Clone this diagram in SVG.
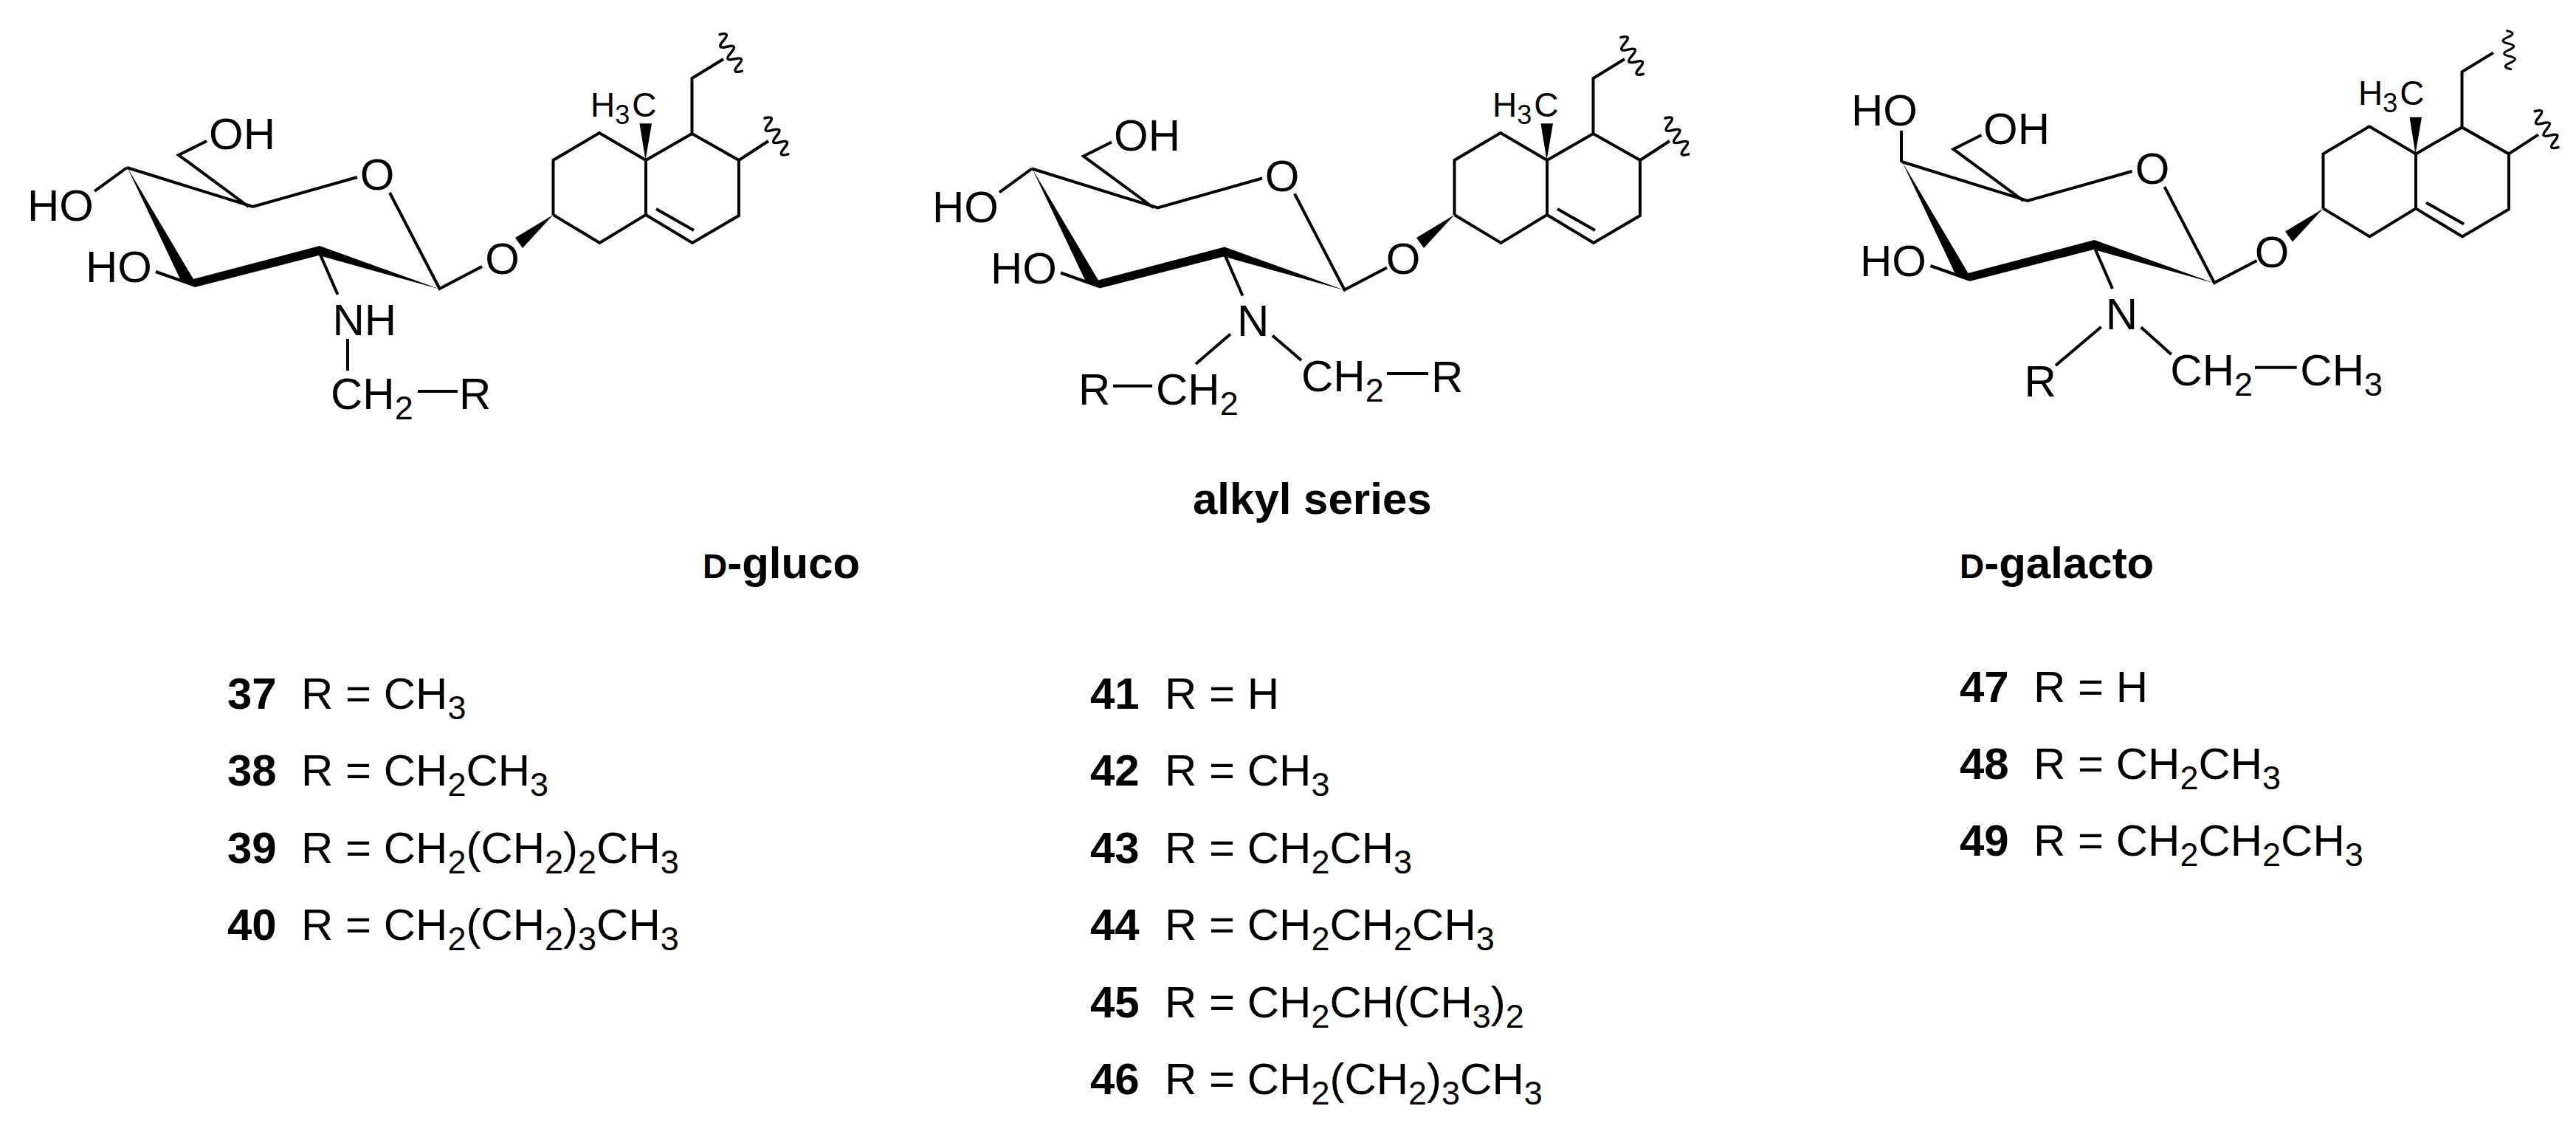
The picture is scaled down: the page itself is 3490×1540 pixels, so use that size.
<svg xmlns="http://www.w3.org/2000/svg" width="3490" height="1540" viewBox="0 0 3490 1540">
<style>
text{font-family:"Liberation Sans",Arial,sans-serif;font-size:60px;fill:#000}
.s{font-size:45px}
.h{font-size:46px}
.hs{font-size:36px}
.bd{font-weight:bold}
.sc{font-weight:bold;font-size:46px}
.m{text-anchor:middle}
.b{fill:none;stroke:#000;stroke-width:4;stroke-linejoin:miter}
.w{fill:none;stroke:#000;stroke-width:3.6;stroke-linecap:round}
.f{fill:#000;stroke:none}
</style>
<defs>
<path id="wig" class="w" d="M0 0q5 -16 10 0t10 0t10 0t10 0t10 0t10 0"/>
<g id="ring">
<path class="b" d="M172 227L342.5 280L484 240M280 191L242 210L337 280M528 261L595.5 391L653 361M211 368L262 386M433.5 344L457.5 399"/>
<polygon class="f" points="172.5,227 245,380 264,389 432,346 595.5,391.5 433,333 262,378"/>
</g>
<g id="agly">
<path class="b" d="M749.5 291V217L812 180L875 217V291L812.5 329L749.5 291M875 217L937.5 181L1001 217V292L938 329L875 291M889 283L940 312M937.5 181V106L980 80M1001 217L1041 191"/>
<polygon class="f" points="749.5,291 698,322 708,336"/>
<polygon class="f" points="874.5,217 866.5,167.3 883,167.3"/>
</g>
</defs>

<g id="connectors">
<path class="b" d="M172 227L128 259M471 459V502M566 530H620"/>
<path class="b" d="M1667 452.6L1620 493M1724 454.5L1763 488M1879 506H1935M1508 522.7H1561"/>
<path class="b" d="M2576 177V219.5M2846.7 442.7L2785 495M2900.7 443.3L2941.7 480M3055 497.7H3111.7"/>
</g>

<g id="d-gluco-structure">
<use href="#ring"/><use href="#agly"/>
<use href="#wig" transform="translate(975 46.7) rotate(58.6) scale(.97)"/>
<use href="#wig" transform="translate(1036 160) rotate(57) scale(.97)"/>
<text x="283" y="202">OH</text>
<text x="37" y="299">HO</text>
<text x="116" y="382">HO</text>
<text x="511" y="257" class="m">O</text>
<text x="680.6" y="371" class="m">O</text>
<text x="450.5" y="454">NH</text>
<text x="448" y="554">CH<tspan class="s" dy="14">2</tspan></text>
<text x="622" y="554">R</text>
<text x="800" y="158.3" class="h">H<tspan class="hs" dy="10">3</tspan><tspan dy="-10" dx="3">C</tspan></text>
</g>

<g id="alkyl-structure">
<use href="#ring" transform="translate(1226 1.5)"/><use href="#agly" transform="translate(1221 0)"/>
<use href="#wig" transform="translate(2196 50.6) rotate(58.6) scale(.97)"/>
<use href="#wig" transform="translate(2256 160) rotate(57) scale(.97)"/>
<path class="b" d="M1398 228.5L1354 260.5"/>
<text x="1509" y="203.5">OH</text>
<text x="1263" y="300.5">HO</text>
<text x="1342" y="383.5">HO</text>
<text x="1737" y="258.5" class="m">O</text>
<text x="1901" y="371" class="m">O</text>
<text x="1676" y="454.5">N</text>
<text x="1763" y="530">CH<tspan class="s" dy="14">2</tspan></text>
<text x="1939" y="531">R</text>
<text x="1461" y="547.5">R</text>
<text x="1566" y="547.5">CH<tspan class="s" dy="14">2</tspan></text>
<text x="2022" y="158.3" class="h">H<tspan class="hs" dy="10">3</tspan><tspan dy="-10" dx="3">C</tspan></text>
</g>

<g id="d-galacto-structure">
<use href="#ring" transform="translate(2404.5 -8)"/><use href="#agly" transform="translate(2398 -8.6)"/>
<use href="#wig" transform="translate(3396.7 41.7) rotate(84.5) scale(.87)"/>
<use href="#wig" transform="translate(3434.3 150.7) rotate(57) scale(.97)"/>
<text x="2687" y="194.5">OH</text>
<text x="2508" y="170">HO</text>
<text x="2520" y="373.7">HO</text>
<text x="2916" y="249" class="m">O</text>
<text x="3078" y="362" class="m">O</text>
<text x="2852.7" y="446">N</text>
<text x="2742.5" y="537.3">R</text>
<text x="2940.3" y="521.7">CH<tspan class="s" dy="14">2</tspan></text>
<text x="3116.3" y="521.7">CH<tspan class="s" dy="14">3</tspan></text>
<text x="3195" y="142.3" class="h">H<tspan class="hs" dy="10">3</tspan><tspan dy="-10" dx="3">C</tspan></text>
</g>

<g id="captions">
<text x="1616" y="696" class="bd">alkyl series</text>
<text x="952" y="783"><tspan class="sc">D</tspan><tspan class="bd">-gluco</tspan></text>
<text x="2655" y="783"><tspan class="sc">D</tspan><tspan class="bd">-galacto</tspan></text>
</g>

<g id="list-gluco">
<text x="308" y="960" class="bd">37</text><text x="408" y="960">R = CH<tspan class="s" dy="14">3</tspan></text>
<text x="308" y="1064" class="bd">38</text><text x="408" y="1064">R = CH<tspan class="s" dy="14">2</tspan><tspan dy="-14">CH</tspan><tspan class="s" dy="14">3</tspan></text>
<text x="308" y="1169" class="bd">39</text><text x="408" y="1169">R = CH<tspan class="s" dy="14">2</tspan><tspan dy="-14">(CH</tspan><tspan class="s" dy="14">2</tspan><tspan dy="-14">)</tspan><tspan class="s" dy="14">2</tspan><tspan dy="-14">CH</tspan><tspan class="s" dy="14">3</tspan></text>
<text x="308" y="1273" class="bd">40</text><text x="408" y="1273">R = CH<tspan class="s" dy="14">2</tspan><tspan dy="-14">(CH</tspan><tspan class="s" dy="14">2</tspan><tspan dy="-14">)</tspan><tspan class="s" dy="14">3</tspan><tspan dy="-14">CH</tspan><tspan class="s" dy="14">3</tspan></text>
</g>

<g id="list-alkyl">
<text x="1477" y="960" class="bd">41</text><text x="1578" y="960">R = H</text>
<text x="1477" y="1064" class="bd">42</text><text x="1578" y="1064">R = CH<tspan class="s" dy="14">3</tspan></text>
<text x="1477" y="1169" class="bd">43</text><text x="1578" y="1169">R = CH<tspan class="s" dy="14">2</tspan><tspan dy="-14">CH</tspan><tspan class="s" dy="14">3</tspan></text>
<text x="1477" y="1273" class="bd">44</text><text x="1578" y="1273">R = CH<tspan class="s" dy="14">2</tspan><tspan dy="-14">CH</tspan><tspan class="s" dy="14">2</tspan><tspan dy="-14">CH</tspan><tspan class="s" dy="14">3</tspan></text>
<text x="1477" y="1378" class="bd">45</text><text x="1578" y="1378">R = CH<tspan class="s" dy="14">2</tspan><tspan dy="-14">CH(CH</tspan><tspan class="s" dy="14">3</tspan><tspan dy="-14">)</tspan><tspan class="s" dy="14">2</tspan></text>
<text x="1477" y="1482" class="bd">46</text><text x="1578" y="1482">R = CH<tspan class="s" dy="14">2</tspan><tspan dy="-14">(CH</tspan><tspan class="s" dy="14">2</tspan><tspan dy="-14">)</tspan><tspan class="s" dy="14">3</tspan><tspan dy="-14">CH</tspan><tspan class="s" dy="14">3</tspan></text>
</g>

<g id="list-galacto">
<text x="2655" y="951" class="bd">47</text><text x="2755" y="951">R = H</text>
<text x="2655" y="1055" class="bd">48</text><text x="2755" y="1055">R = CH<tspan class="s" dy="14">2</tspan><tspan dy="-14">CH</tspan><tspan class="s" dy="14">3</tspan></text>
<text x="2655" y="1159" class="bd">49</text><text x="2755" y="1159">R = CH<tspan class="s" dy="14">2</tspan><tspan dy="-14">CH</tspan><tspan class="s" dy="14">2</tspan><tspan dy="-14">CH</tspan><tspan class="s" dy="14">3</tspan></text>
</g>
</svg>
